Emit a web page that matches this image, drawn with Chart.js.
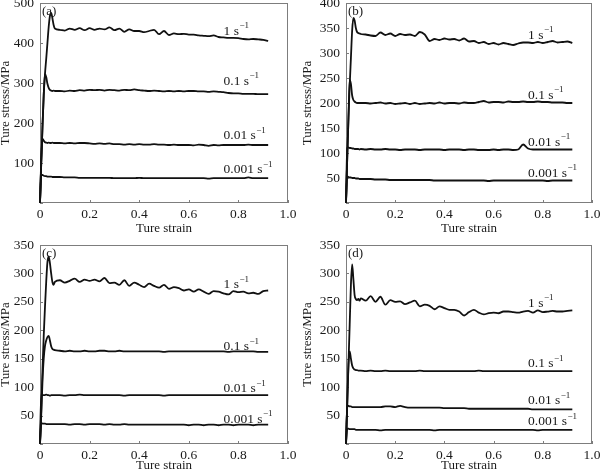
<!DOCTYPE html>
<html>
<head>
<meta charset="utf-8">
<script src="https://cdn.jsdelivr.net/npm/chart.js@4.4.0/dist/chart.umd.min.js"></script>
<style>
body{margin:0;background:#fff;width:600px;height:473px;position:relative;overflow:hidden}
canvas{position:absolute}
</style>
</head>
<body>
<canvas id="pa" width="300" height="236" style="left:0;top:0"></canvas>
<canvas id="pb" width="300" height="236" style="left:300px;top:0"></canvas>
<canvas id="pc" width="300" height="237" style="left:0;top:236px"></canvas>
<canvas id="pd" width="300" height="237" style="left:300px;top:236px"></canvas>
<script>
// shared strain samples: head (0 - 0.06 by 0.005) then 0.08 - 0.92 by 0.02
const strain = [0,0.005,0.01,0.015,0.02,0.025,0.03,0.035,0.04,0.045,0.05,0.055,0.06,
  0.08,0.10,0.12,0.14,0.16,0.18,0.20,0.22,0.24,
  0.26,0.28,0.30,0.32,0.34,0.36,0.38,0.40,0.42,
  0.44,0.46,0.48,0.50,0.52,0.54,0.56,0.58,0.60,
  0.62,0.64,0.66,0.68,0.70,0.72,0.74,0.76,0.78,
  0.80,0.82,0.84,0.86,0.88,0.90,0.92];

const rates = ['1', '0.1', '0.01', '0.001'];

/* (a) */
const a_1 = [0,100,190,270,322,360,400,440,468,475,462,445,436,
  433,431,436,433,437,432,437,433,436,
  434,439,432,436,428,434,430,430,427,
  430,433,422,430,420,424,422,423,421,
  421,419,418,417,419,415,414,413,413,
  412,410,409,410,409,408,405];
const a_01 = [0,100,190,270,322,315,298,288,283,281,280,281,280,
  280,279,281,280,282,281,283,282,283,
  281,283,282,281,283,282,284,282,281,
  280,281,280,279,280,279,280,279,280,
  280,279,279,278,279,278,277,275,274,
  274,273,273,273,272,272,272];
const a_001 = [0,110,160,156,152,151,150,151,150,150,151,150,150,
  150,149,150,149,150,150,149,148,149,
  148,149,147,147,146,147,146,147,146,
  146,147,146,146,145,146,145,145,145,
  144,146,145,143,145,144,145,145,145,
  145,145,146,145,145,145,145];
const a_0001 = [0,70,70,68,67,67,66,66,66,66,65,65,65,
  65,64,64,64,63,63,63,63,63,
  63,63,62,62,62,62,62,63,62,
  62,62,62,62,62,62,62,62,62,
  62,62,62,61,62,62,62,62,62,
  62,62,64,62,62,62,62];

/* (b) */
const b_1 = [0,90,170,235,290,345,370,365,350,342,340,339,338,
  337,335,334,341,336,339,334,338,336,
  337,334,342,337,324,328,326,329,327,
  328,325,329,323,324,320,322,318,320,
  317,320,318,316,319,321,321,320,322,
  320,322,324,321,322,323,320];
const b_01 = [0,90,170,246,238,215,206,203,201,200,200,200,200,
  200,199,200,201,199,200,198,199,200,
  198,200,198,199,200,199,201,199,200,
  200,199,201,200,200,202,204,201,202,
  202,201,203,202,202,203,202,202,203,
  202,202,201,201,201,200,200];
const b_001 = [0,110,111,110,110,109,109,108,108,108,108,107,108,
  107,108,107,107,108,107,107,106,107,
  107,107,106,107,107,107,107,106,107,
  107,107,106,107,107,106,106,106,107,
  106,107,107,106,107,117,109,107,107,
  107,107,107,107,107,107,107];
const b_0001 = [0,53,52,51,51,50,50,50,49,49,49,48,48,
  48,48,47,47,47,46,46,46,46,
  46,46,46,46,46,45,45,45,45,
  45,45,45,45,45,45,45,44,45,
  45,45,45,45,45,45,45,45,45,
  45,44,45,45,45,45,45];

/* (c) */
const c_1 = [0,60,130,190,240,285,320,330,318,300,285,280,285,
  288,284,287,291,285,289,287,289,286,
  292,283,284,280,288,278,284,280,276,
  282,278,275,280,273,276,274,270,272,
  268,272,268,264,269,268,265,263,269,
  267,268,265,266,264,269,270];
const c_01 = [0,50,110,150,172,182,188,190,182,172,167,166,165,
  164,163,164,163,163,164,163,163,164,
  164,163,163,164,163,163,163,163,163,
  163,163,163,162,163,163,163,163,163,
  163,163,163,163,163,163,163,162,163,
  163,163,163,163,162,162,162];
const c_001 = [0,88,86,86,86,87,86,86,85,86,86,86,86,
  86,85,86,86,87,86,86,86,86,
  86,86,86,86,85,86,86,86,86,
  86,86,86,85,86,86,86,86,86,
  86,86,86,86,86,86,86,86,86,
  86,86,86,86,86,86,86];
const c_0001 = [0,37,36,36,36,35,35,35,35,35,35,35,35,
  35,35,34,35,35,34,35,35,35,
  34,35,34,34,35,34,34,34,34,
  34,34,34,34,34,34,34,34,33,
  34,34,33,34,34,33,34,34,33,
  34,34,34,33,34,34,34];

/* (d) */
const d_1 = [0,70,140,210,280,316,290,262,255,253,255,252,256,
  252,260,250,259,245,253,250,251,246,
  249,252,242,245,243,237,242,239,236,
  236,233,226,232,236,231,228,230,231,
  230,233,233,232,231,233,234,231,235,
  232,233,234,233,233,234,235];
const d_01 = [0,70,140,163,150,138,133,131,130,130,129,129,129,
  128,129,128,128,129,128,128,128,128,
  128,128,129,128,128,128,128,128,128,
  128,128,128,128,128,129,128,128,128,
  128,128,128,128,128,128,128,128,128,
  128,128,128,128,128,128,128];
const d_001 = [0,68,67,66,66,65,65,65,65,65,65,65,65,
  65,65,65,65,66,66,65,67,65,
  64,64,64,64,64,64,64,63,63,
  63,63,63,62,62,62,62,62,62,
  62,62,62,62,62,62,62,61,61,
  61,61,61,61,61,61,61];
const d_0001 = [0,27,27,26,26,26,26,26,25,25,25,25,25,
  25,25,25,24,25,25,25,25,25,
  25,25,25,25,25,24,25,25,25,
  25,25,25,25,25,25,25,25,25,
  25,25,25,25,25,25,25,25,24,
  25,25,25,25,25,25,25];

// where the rate labels sit (strain, stress)
const labelStrain = 0.74;
const aLabelStress = [430, 305, 168, 83];
const bLabelStress = [336, 216, 122, 60];
const cLabelStress = [281, 172, 97, 44];
const dLabelStress = [248, 142, 76, 40];

const FONT = '"Liberation Serif", "Times New Roman", serif';
const INK = '#1a1a1a';

const annotate = {
  id: 'annotate',
  beforeDatasetsDraw(chart) {
    const {ctx, chartArea: ca, scales: {x, y}} = chart;
    ctx.save();
    ctx.strokeStyle = '#7d7d7d';
    ctx.lineWidth = 1;
    ctx.strokeRect(ca.left + 0.5, ca.top + 0.5, ca.right - ca.left - 1, ca.bottom - ca.top - 1);
    ctx.beginPath();
    x.ticks.forEach(t => {
      const px = Math.round(x.getPixelForValue(t.value)) + 0.5;
      ctx.moveTo(px, ca.bottom);
      ctx.lineTo(px, ca.bottom - 3);
    });
    y.ticks.forEach(t => {
      const py = Math.round(y.getPixelForValue(t.value)) + 0.5;
      ctx.moveTo(ca.left, py);
      ctx.lineTo(ca.left + 3, py);
    });
    ctx.stroke();
    ctx.restore();
  },
  afterDatasetsDraw(chart, args, opts) {
    const {ctx, chartArea: ca, scales: {x, y}} = chart;
    ctx.save();
    ctx.fillStyle = INK;
    ctx.textAlign = 'left';
    ctx.textBaseline = 'middle';
    ctx.font = '13px ' + FONT;
    ctx.fillText(opts.letter, ca.left + 2, ca.top + 9);
    opts.stress.forEach((s, i) => {
      const px = x.getPixelForValue(labelStrain);
      const py = y.getPixelForValue(s);
      ctx.font = '13.5px ' + FONT;
      const base = rates[i] + ' s';
      ctx.fillText(base, px, py);
      const w = ctx.measureText(base).width;
      ctx.font = '9px ' + FONT;
      ctx.fillText('\u22121', px + w + 0.5, py - 5);
    });
    ctx.restore();
  }
};

function makePanel(id, series, labelStress, letter, ymax, step, yw, xh, padTop, padRight, titlePad) {
  const datasets = series.map(vals => ({
    data: strain.map((s, i) => ({x: s, y: vals[i]})),
    borderColor: '#111',
    borderWidth: 1.8,
    pointRadius: 0,
    cubicInterpolationMode: 'monotone',
    clip: 3
  }));
  new Chart(document.getElementById(id), {
    type: 'line',
    data: {datasets},
    plugins: [annotate],
    options: {
      responsive: false,
      animation: false,
      layout: {padding: {top: padTop, right: padRight, left: 0, bottom: 0}},
      plugins: {
        legend: {display: false},
        tooltip: {enabled: false},
        annotate: {letter: letter, stress: labelStress}
      },
      scales: {
        x: {
          type: 'linear', min: 0, max: 1,
          grid: {display: false, drawTicks: false},
          border: {display: false},
          ticks: {
            stepSize: 0.2, padding: 3, color: INK,
            font: {family: FONT, size: 13.5},
            maxRotation: 0,
            callback: v => v === 0 ? '0' : v.toFixed(1)
          },
          title: {display: true, text: 'Ture strain', color: INK, font: {family: FONT, size: 13}, padding: 0},
          afterFit: s => { s.height = xh; s.paddingLeft = 0; s.paddingRight = 0; }
        },
        y: {
          min: 0, max: ymax,
          grid: {display: false, drawTicks: false},
          border: {display: false},
          ticks: {
            stepSize: step, padding: 6, color: INK,
            font: {family: FONT, size: 13.5},
            callback: v => v === 0 ? '' : v
          },
          title: {display: true, text: 'Ture stress/MPa', color: INK, font: {family: FONT, size: 13}, padding: {top: titlePad}},
          afterFit: s => { s.width = yw; s.paddingTop = 0; s.paddingBottom = 0; }
        }
      }
    }
  });
}

makePanel('pa', [a_1, a_01, a_001, a_0001], aLabelStress, '(a)', 500, 100, 40, 33, 3, 12, -2);
makePanel('pb', [b_1, b_01, b_001, b_0001], bLabelStress, '(b)', 400, 50, 46, 33, 3, 8, 0);
makePanel('pc', [c_1, c_01, c_001, c_0001], cLabelStress, '(c)', 350, 50, 40, 29, 9, 12, -2);
makePanel('pd', [d_1, d_01, d_001, d_0001], dLabelStress, '(d)', 350, 50, 46, 29, 9, 8, 0);
</script>
</body>
</html>
